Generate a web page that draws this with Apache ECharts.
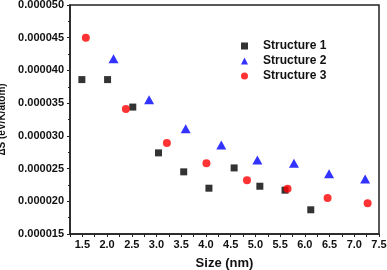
<!DOCTYPE html>
<html>
<head>
<meta charset="utf-8">
<script src="https://cdn.jsdelivr.net/npm/echarts@6/dist/echarts.min.js"></script>
<style>
  html, body { margin: 0; padding: 0; background: #fff; }
  #chart { width: 387px; height: 270px; }
</style>
</head>
<body>
<div id="chart"></div>
<script>
var seriesNames = ['Structure 1', 'Structure 2', 'Structure 3'];

// size (nm) and ΔS (eV/K/atom) for each structure
var size1 = [1.49, 2.01, 2.52, 3.04, 3.55, 4.06, 4.57, 5.09, 5.60, 6.12];
var ds1 = [0.0000386, 0.0000386, 0.0000344, 0.0000274, 0.0000245, 0.0000220, 0.0000251, 0.0000223, 0.0000217, 0.0000187];

var size2 = [2.13, 2.85, 3.59, 4.31, 5.04, 5.78, 6.49, 7.22];
var ds2 = [0.0000418, 0.0000355, 0.0000311, 0.0000286, 0.0000263, 0.0000258, 0.0000242, 0.0000234];

var size3 = [1.57, 2.38, 3.21, 4.01, 4.83, 5.65, 6.46, 7.27];
var ds3 = [0.0000450, 0.0000341, 0.0000289, 0.0000258, 0.0000232, 0.0000219, 0.0000205, 0.0000197];

var xLabels = [1.5, 2.0, 2.5, 3.0, 3.5, 4.0, 4.5, 5.0, 5.5, 6.0, 6.5, 7.0, 7.5];
var xTicks = [1.25, 1.5, 1.75, 2.0, 2.25, 2.5, 2.75, 3.0, 3.25, 3.5, 3.75, 4.0, 4.25, 4.5, 4.75, 5.0, 5.25, 5.5, 5.75, 6.0, 6.25, 6.5, 6.75, 7.0, 7.25, 7.5];

function pairs(xs, ys) {
    return xs.map(function (x, i) { return [x, ys[i]]; });
}

var chart = echarts.init(document.getElementById('chart'));

var axisColor = '#222';
var fontFam = '"Liberation Sans", Arial, sans-serif';

option = {
    animation: false,
    grid: {
        left: 70,
        right: 8,
        top: 5,
        bottom: 36,
        containLabel: false,
        outerBoundsMode: 'none',
        show: true,
        borderColor: axisColor,
        borderWidth: 1.5
    },
    legend: {
        orient: 'vertical',
        left: 236,
        top: 35,
        itemWidth: 7,
        itemHeight: 7,
        itemGap: 3,
        textStyle: {
            color: '#111',
            fontSize: 12,
            fontWeight: 'bold',
            fontFamily: fontFam,
            padding: [0, 0, 0, 10]
        },
        data: [
            { name: seriesNames[0], icon: 'rect', itemStyle: { color: '#000' } },
            { name: seriesNames[1], icon: 'triangle', itemStyle: { color: '#0000ff' } },
            { name: seriesNames[2], icon: 'circle', itemStyle: { color: '#ff0000' } }
        ]
    },
    xAxis: {
        type: 'value',
        min: 1.25,
        max: 7.5,
        name: 'Size (nm)',
        nameLocation: 'middle',
        nameGap: 23,
        nameTextStyle: {
            color: '#111',
            fontSize: 13,
            fontWeight: 'bold',
            fontFamily: fontFam
        },
        axisLine: { lineStyle: { color: axisColor, width: 1.5 } },
        axisTick: {
            customValues: xTicks,
            length: 3,
            lineStyle: { color: axisColor }
        },
        axisLabel: {
            customValues: xLabels,
            margin: 5,
            color: '#111',
            fontSize: 11,
            fontWeight: 'bold',
            fontFamily: fontFam,
            formatter: function (v) { return v.toFixed(1); }
        },
        splitLine: { show: false }
    },
    yAxis: {
        type: 'value',
        min: 0.000015,
        max: 0.00005,
        interval: 0.000005,
        name: 'ΔS (eV/K/atom)',
        nameLocation: 'middle',
        nameGap: 61,
        nameTextStyle: {
            color: '#111',
            fontSize: 10,
            fontWeight: 'bold',
            fontFamily: fontFam
        },
        axisLine: { show: true, lineStyle: { color: axisColor, width: 1.5 } },
        axisTick: {
            show: true,
            length: 3,
            lineStyle: { color: axisColor }
        },
        minorTick: {
            show: true,
            splitNumber: 2,
            length: 2,
            lineStyle: { color: axisColor }
        },
        axisLabel: {
            margin: 6,
            color: '#111',
            fontSize: 11,
            fontWeight: 'bold',
            fontFamily: fontFam,
            formatter: function (v) { return v.toFixed(6); }
        },
        splitLine: { show: false }
    },
    series: [
        {
            name: seriesNames[0],
            type: 'scatter',
            symbol: 'rect',
            symbolSize: 7,
            itemStyle: { color: '#000' },
            data: pairs(size1, ds1)
        },
        {
            name: seriesNames[1],
            type: 'scatter',
            symbol: 'triangle',
            symbolSize: [10, 9],
            itemStyle: { color: '#0000ff' },
            data: pairs(size2, ds2)
        },
        {
            name: seriesNames[2],
            type: 'scatter',
            symbol: 'circle',
            symbolSize: 8,
            itemStyle: { color: '#ff0000' },
            data: pairs(size3, ds3)
        }
    ]
};

chart.setOption(option);
</script>
</body>
</html>
